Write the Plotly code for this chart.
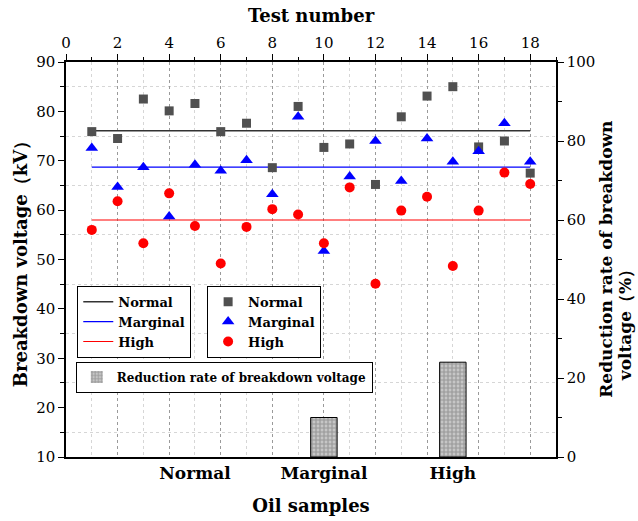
import plotly.graph_objects as go

# Breakdown voltage per test (kV)
tests = list(range(1, 19))
normal_kv = [75.9, 74.5, 82.5, 80.1, 81.6, 75.9, 77.6, 68.6, 81.0,
             72.7, 73.4, 65.2, 78.9, 83.1, 85.0, 72.8, 74.0, 67.5]
marginal_kv = [72.6, 64.7, 68.7, 58.7, 69.2, 68.0, 70.1, 63.2, 78.9,
               51.7, 66.8, 74.0, 65.9, 74.5, 69.8, 71.9, 77.6, 69.8]
high_kv = [56.0, 61.8, 53.3, 63.4, 56.8, 49.2, 56.6, 60.2, 59.1,
           53.3, 64.6, 45.1, 59.9, 62.7, 48.7, 59.9, 67.6, 65.3]

# Average breakdown voltage of each oil sample (kV)
avg_kv = [76.1, 68.7, 58.0]

# Oil samples and reduction rate of breakdown voltage (%)
samples = ["Normal", "Marginal", "High"]
sample_pos = [1, 2, 3]
reduction_pct = [0.0, 10.0, 24.0]

SERIF = "DejaVu Serif"
names = ["Normal", "Marginal", "High"]
line_colors = ["#333333", "#0000ff", "#ff0000"]
line_widths = [1.5, 1.2, 1.2]
marker_colors = ["#505050", "#0000ff", "#ff0000"]
marker_symbols = ["square", "triangle-up", "circle"]
marker_sizes = [9, 11, 10]
series = [normal_kv, marginal_kv, high_kv]

fig = go.Figure()

# Reduction-rate bars: bottom category axis (x) with the right % axis (y)
fig.add_trace(go.Bar(
    x=sample_pos, y=reduction_pct, xaxis="x", yaxis="y", width=0.205,
    name="Reduction rate of breakdown voltage", legend="legend3",
    marker=dict(color="#c0c0c0",
                line=dict(color="black", width=[0, 1, 1]),
                pattern=dict(shape="+", fgcolor="#6a6a6a", bgcolor="#c6c6c6",
                             size=4, solidity=0.5)),
))

# Average lines: top test-number axis (x2) with the left kV axis (y2)
for name, avg, col, w in zip(names, avg_kv, line_colors, line_widths):
    fig.add_trace(go.Scatter(
        x=tests, y=[avg] * len(tests), xaxis="x2", yaxis="y2",
        mode="lines", name=name, legend="legend",
        line=dict(color=col, width=w),
    ))

# Per-test markers
for name, vals, col, sym, sz in zip(names, series, marker_colors,
                                    marker_symbols, marker_sizes):
    fig.add_trace(go.Scatter(
        x=tests, y=vals, xaxis="x2", yaxis="y2",
        mode="markers", name=name, legend="legend2",
        marker=dict(color=col, symbol=sym, size=sz, line=dict(width=0)),
    ))

tick_font = dict(family=SERIF, size=15, color="black")
title_font = dict(family=SERIF, size=18, color="black", weight="bold")
legend_font = dict(family=SERIF, size=13, color="black", weight="bold")

fig.update_layout(
    width=638, height=521,
    margin=dict(l=66, r=82, t=62, b=64, autoexpand=False),
    paper_bgcolor="white", plot_bgcolor="white",
    barmode="overlay",
    xaxis=dict(
        range=[0, 3.8], tickvals=sample_pos, ticktext=samples,
        tickfont=dict(family=SERIF, size=17, color="black", weight="bold"),
        ticks="", showgrid=False, zeroline=False,
        showline=True, linecolor="black", linewidth=2,
        title=dict(text="Oil samples", font=title_font, standoff=17),
    ),
    xaxis2=dict(
        overlaying="x", side="top", anchor="y2", range=[0, 19],
        tick0=0, dtick=2, ticks="outside", ticklen=6, tickwidth=1.2,
        tickcolor="black", tickfont=tick_font,
        showline=True, linecolor="black", linewidth=1.5,
        showgrid=True, gridcolor="#9a9a9a", gridwidth=1, griddash="dot",
        zeroline=False,
        minor=dict(dtick=1, ticks="outside", ticklen=3, tickcolor="black",
                   showgrid=True, gridcolor="#d6d6d6", griddash="dot"),
        title=dict(text="Test number", font=title_font, standoff=7),
    ),
    # right axis: reduction rate (%)
    yaxis=dict(
        side="right", anchor="x", range=[0, 100],
        tick0=0, dtick=20, ticks="outside", ticklen=6, tickwidth=1.2,
        tickcolor="black", tickfont=tick_font,
        showline=True, linecolor="black", linewidth=1.5,
        showgrid=False, zeroline=False,
        minor=dict(dtick=10, ticks="outside", ticklen=4, tickcolor="black",
                   showgrid=False),
    ),
    # left axis: breakdown voltage (kV)
    yaxis2=dict(
        overlaying="y", side="left", anchor="x", range=[10, 90],
        tick0=10, dtick=10, ticks="outside", ticklen=6,
        tickwidth=1.2, tickcolor="black", tickfont=tick_font,
        showline=True, linecolor="black", linewidth=1.5,
        showgrid=False, zeroline=False,
        minor=dict(dtick=5, ticks="outside", ticklen=4, tickcolor="black",
                   showgrid=True, gridcolor="#d6d6d6", griddash="dot"),
        title=dict(text="Breakdown voltage（kV）", font=title_font, standoff=4),
    ),
    legend=dict(x=0.023, y=0.4335, xanchor="left", yanchor="top",
                bgcolor="white", bordercolor="black", borderwidth=1,
                font=legend_font, tracegroupgap=0),
    legend2=dict(x=0.288, y=0.4335, xanchor="left", yanchor="top",
                 bgcolor="white", bordercolor="black", borderwidth=1,
                 font=legend_font, tracegroupgap=0),
    legend3=dict(x=0.020, y=0.2416, xanchor="left", yanchor="top",
                 bgcolor="white", bordercolor="black", borderwidth=1,
                 font=dict(family=SERIF, size=12, color="black", weight="bold")),
    annotations=[
        dict(text="Reduction rate of breakdown", xref="paper", yref="paper",
             x=1.1006, y=0.5, xanchor="center", yanchor="middle",
             textangle=-90, showarrow=False, font=dict(title_font, size=17)),
        dict(text="voltage（%）", xref="paper", yref="paper",
             x=1.1414, y=0.1876, xanchor="center", yanchor="bottom",
             textangle=-90, showarrow=False, font=dict(title_font, size=17)),
    ],
)

fig.write_html("out.html")
